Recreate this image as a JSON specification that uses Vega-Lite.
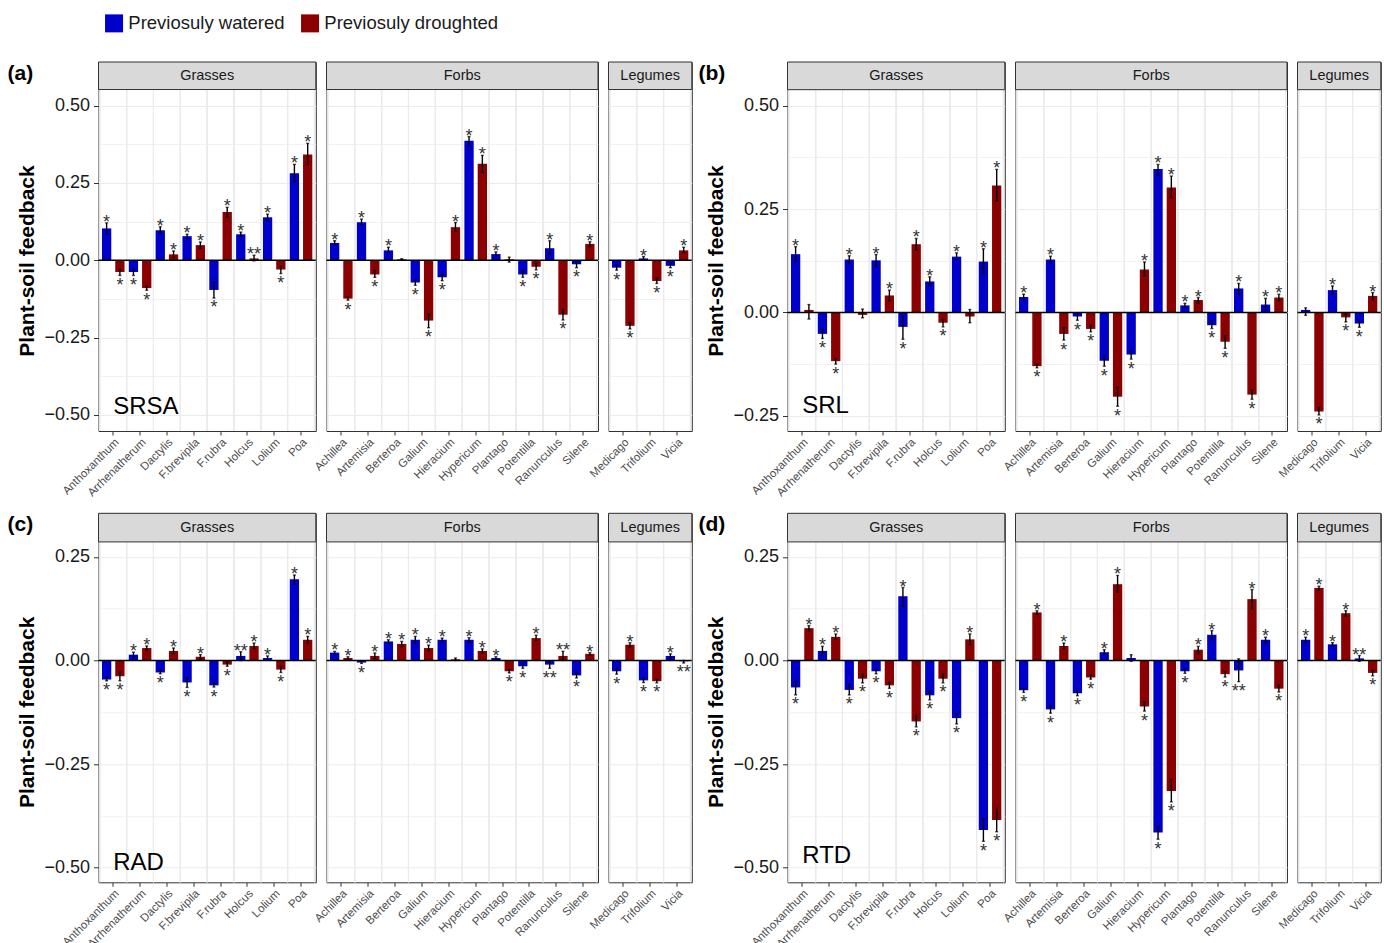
{
"$schema": "https://vega.github.io/schema/vega-lite/v6.json",
"padding": {"left": 6.5, "top": 14, "right": 4, "bottom": 0},
"config": {
  "font": "Liberation Sans",
  "view": {"stroke": "#333333", "strokeWidth": 1},
  "axis": {"domain": false, "gridColor": "#EBEBEB"},
  "axisY": {"grid": true, "tickColor": "#333333", "tickSize": 5, "labelFontSize": 18, "labelColor": "#1A1A1A", "labelPadding": 4, "titleFontSize": 21, "titleFontWeight": "bold", "titleColor": "#000000", "titlePadding": 6},
  "axisX": {"grid": false, "labelAngle": -45, "labelAlign": "right", "labelBaseline": "top", "labelFontSize": 11.5, "labelColor": "#4D4D4D", "tickColor": "#333333", "tickSize": 4, "labelPadding": 1}
},
"resolve": {"scale": {"x": "independent", "y": "independent", "xOffset": "independent", "color": "shared"}},
"columns": 7,
"spacing": {"row": 82.3, "column": 10},
"bounds": "flush",
"align": "each",
"datasets": {"d": [
{"p":"a","g":"G","s":"Anthoxanthum","t":"W","v":0.103,"lo":0.084,"hi":0.121,"sig":"*"},
{"p":"a","g":"G","s":"Anthoxanthum","t":"D","v":-0.038,"lo":-0.049,"hi":-0.030,"sig":"*"},
{"p":"a","g":"G","s":"Arrhenatherum","t":"W","v":-0.038,"lo":-0.049,"hi":-0.030,"sig":"*"},
{"p":"a","g":"G","s":"Arrhenatherum","t":"D","v":-0.090,"lo":-0.097,"hi":-0.084,"sig":"*"},
{"p":"a","g":"G","s":"Dactylis","t":"W","v":0.097,"lo":0.086,"hi":0.108,"sig":"*"},
{"p":"a","g":"G","s":"Dactylis","t":"D","v":0.019,"lo":0.009,"hi":0.030,"sig":"*"},
{"p":"a","g":"G","s":"F.brevipila","t":"W","v":0.078,"lo":0.070,"hi":0.084,"sig":"*"},
{"p":"a","g":"G","s":"F.brevipila","t":"D","v":0.049,"lo":0.038,"hi":0.059,"sig":"*"},
{"p":"a","g":"G","s":"F.rubra","t":"W","v":-0.096,"lo":-0.122,"hi":-0.070,"sig":"*"},
{"p":"a","g":"G","s":"F.rubra","t":"D","v":0.156,"lo":0.140,"hi":0.171,"sig":"*"},
{"p":"a","g":"G","s":"Holcus","t":"W","v":0.084,"lo":0.078,"hi":0.091,"sig":"*"},
{"p":"a","g":"G","s":"Holcus","t":"D","v":0.006,"lo":-0.002,"hi":0.016,"sig":"**"},
{"p":"a","g":"G","s":"Lolium","t":"W","v":0.139,"lo":0.127,"hi":0.149,"sig":"*"},
{"p":"a","g":"G","s":"Lolium","t":"D","v":-0.030,"lo":-0.043,"hi":-0.019,"sig":"*"},
{"p":"a","g":"G","s":"Poa","t":"W","v":0.281,"lo":0.253,"hi":0.310,"sig":"*"},
{"p":"a","g":"G","s":"Poa","t":"D","v":0.342,"lo":0.310,"hi":0.378,"sig":"*"},
{"p":"a","g":"F","s":"Achillea","t":"W","v":0.056,"lo":0.049,"hi":0.063,"sig":"*"},
{"p":"a","g":"F","s":"Achillea","t":"D","v":-0.124,"lo":-0.129,"hi":-0.119,"sig":"*"},
{"p":"a","g":"F","s":"Artemisia","t":"W","v":0.123,"lo":0.114,"hi":0.133,"sig":"*"},
{"p":"a","g":"F","s":"Artemisia","t":"D","v":-0.046,"lo":-0.055,"hi":-0.033,"sig":"*"},
{"p":"a","g":"F","s":"Berteroa","t":"W","v":0.032,"lo":0.025,"hi":0.042,"sig":"*"},
{"p":"a","g":"F","s":"Berteroa","t":"D","v":0.003,"lo":0.001,"hi":0.005,"sig":""},
{"p":"a","g":"F","s":"Galium","t":"W","v":-0.072,"lo":-0.081,"hi":-0.064,"sig":"*"},
{"p":"a","g":"F","s":"Galium","t":"D","v":-0.195,"lo":-0.218,"hi":-0.174,"sig":"*"},
{"p":"a","g":"F","s":"Hieracium","t":"W","v":-0.055,"lo":-0.066,"hi":-0.045,"sig":"*"},
{"p":"a","g":"F","s":"Hieracium","t":"D","v":0.107,"lo":0.093,"hi":0.122,"sig":"*"},
{"p":"a","g":"F","s":"Hypericum","t":"W","v":0.386,"lo":0.370,"hi":0.400,"sig":"*"},
{"p":"a","g":"F","s":"Hypericum","t":"D","v":0.312,"lo":0.284,"hi":0.339,"sig":"*"},
{"p":"a","g":"F","s":"Plantago","t":"W","v":0.020,"lo":0.014,"hi":0.027,"sig":"*"},
{"p":"a","g":"F","s":"Plantago","t":"D","v":0.003,"lo":-0.006,"hi":0.010,"sig":""},
{"p":"a","g":"F","s":"Potentilla","t":"W","v":-0.046,"lo":-0.055,"hi":-0.033,"sig":"*"},
{"p":"a","g":"F","s":"Potentilla","t":"D","v":-0.021,"lo":-0.031,"hi":-0.010,"sig":"*"},
{"p":"a","g":"F","s":"Ranunculus","t":"W","v":0.039,"lo":0.019,"hi":0.063,"sig":"*"},
{"p":"a","g":"F","s":"Ranunculus","t":"D","v":-0.176,"lo":-0.193,"hi":-0.159,"sig":"*"},
{"p":"a","g":"F","s":"Silene","t":"W","v":-0.013,"lo":-0.024,"hi":-0.005,"sig":"*"},
{"p":"a","g":"F","s":"Silene","t":"D","v":0.053,"lo":0.044,"hi":0.060,"sig":"*"},
{"p":"a","g":"L","s":"Medicago","t":"W","v":-0.024,"lo":-0.032,"hi":-0.016,"sig":"*"},
{"p":"a","g":"L","s":"Medicago","t":"D","v":-0.212,"lo":-0.222,"hi":-0.202,"sig":"*"},
{"p":"a","g":"L","s":"Trifolium","t":"W","v":0.006,"lo":0.001,"hi":0.012,"sig":"*"},
{"p":"a","g":"L","s":"Trifolium","t":"D","v":-0.067,"lo":-0.075,"hi":-0.057,"sig":"*"},
{"p":"a","g":"L","s":"Vicia","t":"W","v":-0.018,"lo":-0.024,"hi":-0.010,"sig":"*"},
{"p":"a","g":"L","s":"Vicia","t":"D","v":0.032,"lo":0.025,"hi":0.042,"sig":"*"},
{"p":"b","g":"G","s":"Anthoxanthum","t":"W","v":0.141,"lo":0.123,"hi":0.159,"sig":"*"},
{"p":"b","g":"G","s":"Anthoxanthum","t":"D","v":0.006,"lo":-0.016,"hi":0.019,"sig":""},
{"p":"b","g":"G","s":"Arrhenatherum","t":"W","v":-0.052,"lo":-0.063,"hi":-0.041,"sig":"*"},
{"p":"b","g":"G","s":"Arrhenatherum","t":"D","v":-0.118,"lo":-0.125,"hi":-0.111,"sig":"*"},
{"p":"b","g":"G","s":"Dactylis","t":"W","v":0.128,"lo":0.119,"hi":0.137,"sig":"*"},
{"p":"b","g":"G","s":"Dactylis","t":"D","v":-0.006,"lo":-0.013,"hi":0.008,"sig":""},
{"p":"b","g":"G","s":"F.brevipila","t":"W","v":0.126,"lo":0.110,"hi":0.140,"sig":"*"},
{"p":"b","g":"G","s":"F.brevipila","t":"D","v":0.041,"lo":0.028,"hi":0.054,"sig":"*"},
{"p":"b","g":"G","s":"F.rubra","t":"W","v":-0.035,"lo":-0.065,"hi":-0.008,"sig":"*"},
{"p":"b","g":"G","s":"F.rubra","t":"D","v":0.165,"lo":0.151,"hi":0.179,"sig":"*"},
{"p":"b","g":"G","s":"Holcus","t":"W","v":0.075,"lo":0.064,"hi":0.086,"sig":"*"},
{"p":"b","g":"G","s":"Holcus","t":"D","v":-0.025,"lo":-0.035,"hi":-0.017,"sig":"*"},
{"p":"b","g":"G","s":"Lolium","t":"W","v":0.135,"lo":0.128,"hi":0.144,"sig":"*"},
{"p":"b","g":"G","s":"Lolium","t":"D","v":-0.010,"lo":-0.025,"hi":0.007,"sig":""},
{"p":"b","g":"G","s":"Poa","t":"W","v":0.123,"lo":0.093,"hi":0.154,"sig":"*"},
{"p":"b","g":"G","s":"Poa","t":"D","v":0.307,"lo":0.270,"hi":0.346,"sig":"*"},
{"p":"b","g":"F","s":"Achillea","t":"W","v":0.037,"lo":0.031,"hi":0.044,"sig":"*"},
{"p":"b","g":"F","s":"Achillea","t":"D","v":-0.130,"lo":-0.134,"hi":-0.125,"sig":"*"},
{"p":"b","g":"F","s":"Artemisia","t":"W","v":0.128,"lo":0.120,"hi":0.136,"sig":"*"},
{"p":"b","g":"F","s":"Artemisia","t":"D","v":-0.052,"lo":-0.067,"hi":-0.037,"sig":"*"},
{"p":"b","g":"F","s":"Berteroa","t":"W","v":-0.010,"lo":-0.019,"hi":-0.002,"sig":"*"},
{"p":"b","g":"F","s":"Berteroa","t":"D","v":-0.040,"lo":-0.047,"hi":-0.031,"sig":"*"},
{"p":"b","g":"F","s":"Galium","t":"W","v":-0.117,"lo":-0.130,"hi":-0.105,"sig":"*"},
{"p":"b","g":"F","s":"Galium","t":"D","v":-0.204,"lo":-0.227,"hi":-0.181,"sig":"*"},
{"p":"b","g":"F","s":"Hieracium","t":"W","v":-0.102,"lo":-0.113,"hi":-0.093,"sig":"*"},
{"p":"b","g":"F","s":"Hieracium","t":"D","v":0.104,"lo":0.088,"hi":0.122,"sig":"*"},
{"p":"b","g":"F","s":"Hypericum","t":"W","v":0.347,"lo":0.332,"hi":0.358,"sig":"*"},
{"p":"b","g":"F","s":"Hypericum","t":"D","v":0.302,"lo":0.278,"hi":0.330,"sig":"*"},
{"p":"b","g":"F","s":"Plantago","t":"W","v":0.017,"lo":0.013,"hi":0.022,"sig":"*"},
{"p":"b","g":"F","s":"Plantago","t":"D","v":0.030,"lo":0.022,"hi":0.036,"sig":"*"},
{"p":"b","g":"F","s":"Potentilla","t":"W","v":-0.031,"lo":-0.039,"hi":-0.020,"sig":"*"},
{"p":"b","g":"F","s":"Potentilla","t":"D","v":-0.071,"lo":-0.087,"hi":-0.056,"sig":"*"},
{"p":"b","g":"F","s":"Ranunculus","t":"W","v":0.058,"lo":0.044,"hi":0.070,"sig":"*"},
{"p":"b","g":"F","s":"Ranunculus","t":"D","v":-0.199,"lo":-0.210,"hi":-0.188,"sig":"*"},
{"p":"b","g":"F","s":"Silene","t":"W","v":0.019,"lo":0.006,"hi":0.034,"sig":"*"},
{"p":"b","g":"F","s":"Silene","t":"D","v":0.036,"lo":0.028,"hi":0.044,"sig":"*"},
{"p":"b","g":"L","s":"Medicago","t":"W","v":0.006,"lo":-0.007,"hi":0.011,"sig":""},
{"p":"b","g":"L","s":"Medicago","t":"D","v":-0.240,"lo":-0.248,"hi":-0.230,"sig":"*"},
{"p":"b","g":"L","s":"Trifolium","t":"W","v":0.054,"lo":0.046,"hi":0.064,"sig":"*"},
{"p":"b","g":"L","s":"Trifolium","t":"D","v":-0.012,"lo":-0.023,"hi":-0.004,"sig":"*"},
{"p":"b","g":"L","s":"Vicia","t":"W","v":-0.027,"lo":-0.036,"hi":-0.019,"sig":"*"},
{"p":"b","g":"L","s":"Vicia","t":"D","v":0.040,"lo":0.030,"hi":0.048,"sig":"*"},
{"p":"c","g":"G","s":"Anthoxanthum","t":"W","v":-0.046,"lo":-0.049,"hi":-0.041,"sig":"*"},
{"p":"c","g":"G","s":"Anthoxanthum","t":"D","v":-0.038,"lo":-0.049,"hi":-0.028,"sig":"*"},
{"p":"c","g":"G","s":"Arrhenatherum","t":"W","v":0.014,"lo":0.007,"hi":0.020,"sig":"*"},
{"p":"c","g":"G","s":"Arrhenatherum","t":"D","v":0.030,"lo":0.025,"hi":0.035,"sig":"*"},
{"p":"c","g":"G","s":"Dactylis","t":"W","v":-0.029,"lo":-0.032,"hi":-0.023,"sig":"*"},
{"p":"c","g":"G","s":"Dactylis","t":"D","v":0.023,"lo":0.016,"hi":0.030,"sig":"*"},
{"p":"c","g":"G","s":"F.brevipila","t":"W","v":-0.053,"lo":-0.065,"hi":-0.042,"sig":"*"},
{"p":"c","g":"G","s":"F.brevipila","t":"D","v":0.009,"lo":0.003,"hi":0.014,"sig":"*"},
{"p":"c","g":"G","s":"F.rubra","t":"W","v":-0.060,"lo":-0.064,"hi":-0.054,"sig":"*"},
{"p":"c","g":"G","s":"F.rubra","t":"D","v":-0.010,"lo":-0.014,"hi":-0.004,"sig":"*"},
{"p":"c","g":"G","s":"Holcus","t":"W","v":0.011,"lo":0.000,"hi":0.021,"sig":"**"},
{"p":"c","g":"G","s":"Holcus","t":"D","v":0.035,"lo":0.028,"hi":0.042,"sig":"*"},
{"p":"c","g":"G","s":"Lolium","t":"W","v":0.006,"lo":0.002,"hi":0.011,"sig":"*"},
{"p":"c","g":"G","s":"Lolium","t":"D","v":-0.022,"lo":-0.029,"hi":-0.014,"sig":"*"},
{"p":"c","g":"G","s":"Poa","t":"W","v":0.196,"lo":0.184,"hi":0.206,"sig":"*"},
{"p":"c","g":"G","s":"Poa","t":"D","v":0.050,"lo":0.042,"hi":0.058,"sig":"*"},
{"p":"c","g":"F","s":"Achillea","t":"W","v":0.019,"lo":0.016,"hi":0.022,"sig":"*"},
{"p":"c","g":"F","s":"Achillea","t":"D","v":0.006,"lo":0.003,"hi":0.009,"sig":"*"},
{"p":"c","g":"F","s":"Artemisia","t":"W","v":-0.005,"lo":-0.007,"hi":-0.002,"sig":"*"},
{"p":"c","g":"F","s":"Artemisia","t":"D","v":0.011,"lo":0.005,"hi":0.018,"sig":"*"},
{"p":"c","g":"F","s":"Berteroa","t":"W","v":0.046,"lo":0.042,"hi":0.050,"sig":"*"},
{"p":"c","g":"F","s":"Berteroa","t":"D","v":0.040,"lo":0.033,"hi":0.046,"sig":"*"},
{"p":"c","g":"F","s":"Galium","t":"W","v":0.050,"lo":0.043,"hi":0.058,"sig":"*"},
{"p":"c","g":"F","s":"Galium","t":"D","v":0.030,"lo":0.024,"hi":0.037,"sig":"*"},
{"p":"c","g":"F","s":"Hieracium","t":"W","v":0.050,"lo":0.046,"hi":0.054,"sig":"*"},
{"p":"c","g":"F","s":"Hieracium","t":"D","v":0.003,"lo":0.000,"hi":0.006,"sig":""},
{"p":"c","g":"F","s":"Hypericum","t":"W","v":0.050,"lo":0.044,"hi":0.055,"sig":"*"},
{"p":"c","g":"F","s":"Hypericum","t":"D","v":0.023,"lo":0.018,"hi":0.028,"sig":"*"},
{"p":"c","g":"F","s":"Plantago","t":"W","v":0.006,"lo":0.002,"hi":0.009,"sig":"*"},
{"p":"c","g":"F","s":"Plantago","t":"D","v":-0.026,"lo":-0.030,"hi":-0.022,"sig":"*"},
{"p":"c","g":"F","s":"Potentilla","t":"W","v":-0.014,"lo":-0.019,"hi":-0.009,"sig":"*"},
{"p":"c","g":"F","s":"Potentilla","t":"D","v":0.054,"lo":0.048,"hi":0.061,"sig":"*"},
{"p":"c","g":"F","s":"Ranunculus","t":"W","v":-0.010,"lo":-0.019,"hi":-0.002,"sig":"**"},
{"p":"c","g":"F","s":"Ranunculus","t":"D","v":0.011,"lo":0.000,"hi":0.022,"sig":"**"},
{"p":"c","g":"F","s":"Silene","t":"W","v":-0.036,"lo":-0.042,"hi":-0.029,"sig":"*"},
{"p":"c","g":"F","s":"Silene","t":"D","v":0.016,"lo":0.013,"hi":0.019,"sig":"*"},
{"p":"c","g":"L","s":"Medicago","t":"W","v":-0.026,"lo":-0.033,"hi":-0.019,"sig":"*"},
{"p":"c","g":"L","s":"Medicago","t":"D","v":0.038,"lo":0.033,"hi":0.043,"sig":"*"},
{"p":"c","g":"L","s":"Trifolium","t":"W","v":-0.048,"lo":-0.053,"hi":-0.042,"sig":"*"},
{"p":"c","g":"L","s":"Trifolium","t":"D","v":-0.050,"lo":-0.054,"hi":-0.045,"sig":"*"},
{"p":"c","g":"L","s":"Vicia","t":"W","v":0.011,"lo":0.006,"hi":0.016,"sig":"*"},
{"p":"c","g":"L","s":"Vicia","t":"D","v":-0.002,"lo":-0.006,"hi":0.000,"sig":"**"},
{"p":"d","g":"G","s":"Anthoxanthum","t":"W","v":-0.065,"lo":-0.083,"hi":-0.050,"sig":"*"},
{"p":"d","g":"G","s":"Anthoxanthum","t":"D","v":0.078,"lo":0.072,"hi":0.084,"sig":"*"},
{"p":"d","g":"G","s":"Arrhenatherum","t":"W","v":0.023,"lo":0.012,"hi":0.034,"sig":"*"},
{"p":"d","g":"G","s":"Arrhenatherum","t":"D","v":0.057,"lo":0.051,"hi":0.064,"sig":"*"},
{"p":"d","g":"G","s":"Dactylis","t":"W","v":-0.071,"lo":-0.083,"hi":-0.057,"sig":"*"},
{"p":"d","g":"G","s":"Dactylis","t":"D","v":-0.044,"lo":-0.054,"hi":-0.033,"sig":"*"},
{"p":"d","g":"G","s":"F.brevipila","t":"W","v":-0.026,"lo":-0.032,"hi":-0.021,"sig":"*"},
{"p":"d","g":"G","s":"F.brevipila","t":"D","v":-0.060,"lo":-0.067,"hi":-0.053,"sig":"*"},
{"p":"d","g":"G","s":"F.rubra","t":"W","v":0.155,"lo":0.130,"hi":0.176,"sig":"*"},
{"p":"d","g":"G","s":"F.rubra","t":"D","v":-0.147,"lo":-0.160,"hi":-0.133,"sig":"*"},
{"p":"d","g":"G","s":"Holcus","t":"W","v":-0.084,"lo":-0.095,"hi":-0.073,"sig":"*"},
{"p":"d","g":"G","s":"Holcus","t":"D","v":-0.044,"lo":-0.054,"hi":-0.032,"sig":"*"},
{"p":"d","g":"G","s":"Lolium","t":"W","v":-0.139,"lo":-0.153,"hi":-0.128,"sig":"*"},
{"p":"d","g":"G","s":"Lolium","t":"D","v":0.051,"lo":0.038,"hi":0.064,"sig":"*"},
{"p":"d","g":"G","s":"Poa","t":"W","v":-0.409,"lo":-0.436,"hi":-0.381,"sig":"*"},
{"p":"d","g":"G","s":"Poa","t":"D","v":-0.385,"lo":-0.413,"hi":-0.357,"sig":"*"},
{"p":"d","g":"F","s":"Achillea","t":"W","v":-0.072,"lo":-0.077,"hi":-0.068,"sig":"*"},
{"p":"d","g":"F","s":"Achillea","t":"D","v":0.116,"lo":0.111,"hi":0.120,"sig":"*"},
{"p":"d","g":"F","s":"Artemisia","t":"W","v":-0.118,"lo":-0.127,"hi":-0.109,"sig":"*"},
{"p":"d","g":"F","s":"Artemisia","t":"D","v":0.035,"lo":0.028,"hi":0.042,"sig":"*"},
{"p":"d","g":"F","s":"Berteroa","t":"W","v":-0.079,"lo":-0.085,"hi":-0.072,"sig":"*"},
{"p":"d","g":"F","s":"Berteroa","t":"D","v":-0.041,"lo":-0.045,"hi":-0.034,"sig":"*"},
{"p":"d","g":"F","s":"Galium","t":"W","v":0.020,"lo":0.015,"hi":0.026,"sig":"*"},
{"p":"d","g":"F","s":"Galium","t":"D","v":0.184,"lo":0.165,"hi":0.205,"sig":"*"},
{"p":"d","g":"F","s":"Hieracium","t":"W","v":0.006,"lo":-0.002,"hi":0.014,"sig":""},
{"p":"d","g":"F","s":"Hieracium","t":"D","v":-0.111,"lo":-0.122,"hi":-0.100,"sig":"*"},
{"p":"d","g":"F","s":"Hypericum","t":"W","v":-0.415,"lo":-0.431,"hi":-0.401,"sig":"*"},
{"p":"d","g":"F","s":"Hypericum","t":"D","v":-0.315,"lo":-0.341,"hi":-0.287,"sig":"*"},
{"p":"d","g":"F","s":"Plantago","t":"W","v":-0.026,"lo":-0.031,"hi":-0.021,"sig":"*"},
{"p":"d","g":"F","s":"Plantago","t":"D","v":0.026,"lo":0.016,"hi":0.034,"sig":"*"},
{"p":"d","g":"F","s":"Potentilla","t":"W","v":0.062,"lo":0.050,"hi":0.072,"sig":"*"},
{"p":"d","g":"F","s":"Potentilla","t":"D","v":-0.033,"lo":-0.040,"hi":-0.026,"sig":"*"},
{"p":"d","g":"F","s":"Ranunculus","t":"W","v":-0.024,"lo":-0.051,"hi":0.004,"sig":"**"},
{"p":"d","g":"F","s":"Ranunculus","t":"D","v":0.148,"lo":0.124,"hi":0.171,"sig":"*"},
{"p":"d","g":"F","s":"Silene","t":"W","v":0.050,"lo":0.043,"hi":0.056,"sig":"*"},
{"p":"d","g":"F","s":"Silene","t":"D","v":-0.068,"lo":-0.076,"hi":-0.060,"sig":"*"},
{"p":"d","g":"L","s":"Medicago","t":"W","v":0.050,"lo":0.043,"hi":0.056,"sig":"*"},
{"p":"d","g":"L","s":"Medicago","t":"D","v":0.175,"lo":0.170,"hi":0.179,"sig":"*"},
{"p":"d","g":"L","s":"Trifolium","t":"W","v":0.039,"lo":0.035,"hi":0.043,"sig":"*"},
{"p":"d","g":"L","s":"Trifolium","t":"D","v":0.114,"lo":0.107,"hi":0.120,"sig":"*"},
{"p":"d","g":"L","s":"Vicia","t":"W","v":0.005,"lo":-0.002,"hi":0.012,"sig":"**"},
{"p":"d","g":"L","s":"Vicia","t":"D","v":-0.030,"lo":-0.037,"hi":-0.024,"sig":"*"}
]},
"concat": [
{"width":217.3,"height":369,"data":{"name":"d"},"transform":[{"filter":"datum.p=='a' && datum.g=='G'"}],
 "title":{"text":"(a)","anchor":"start","frame":"group","dx":-91,"dy":33,"offset":0,"baseline":"middle","fontSize":21,"fontWeight":"bold","color":"#000000"},
 "layer":[
  {"mark":{"type":"rule","color":"#EBEBEB","strokeWidth":1.1},"encoding":{"x":{"field":"s","type":"nominal","bandPosition":0},"y":{"datum":-0.552},"y2":{"datum":0.552}}},
  {"mark":{"type":"rule","color":"#EBEBEB","strokeWidth":1.1},"encoding":{"x":{"field":"s","type":"nominal","bandPosition":1},"y":{"datum":-0.552},"y2":{"datum":0.552}}},
  {"mark":{"type":"bar"},"encoding":{"x":{"field":"s","type":"nominal","scale":{"paddingInner":0,"paddingOuter":0.05},"axis":{"title":null}},"xOffset":{"field":"t","type":"nominal","sort":["W","D"],"scale":{"domain":["W","D"],"paddingInner":0.3,"paddingOuter":0.16}},"y":{"field":"v","type":"quantitative","scale":{"domain":[-0.552,0.641],"nice":false},"axis":{"title":"Plant-soil feedback","titleY":198.5,"values":[-0.5,-0.375,-0.25,-0.125,0,0.125,0.25,0.375,0.5],"labelExpr":"abs(datum.value*4-round(datum.value*4))<0.001 ? format(datum.value,'.2f') : ''","tickOpacity":{"condition":{"test":"abs(datum.value*4-round(datum.value*4))<0.001","value":1},"value":0},"gridWidth":{"condition":{"test":"abs(datum.value*4-round(datum.value*4))<0.001","value":1.1},"value":0.7}}},"color":{"field":"t","type":"nominal","sort":["W","D"],"scale":{"domain":["W","D"],"range":["#0000CD","#8B0000"]},"legend":{"title":null,"orient":"none","legendX":6.3,"legendY":-48,"direction":"horizontal","symbolType":"square","symbolSize":324,"symbolStrokeWidth":0,"labelFontSize":18.5,"labelColor":"#1A1A1A","labelOffset":5,"columnPadding":16,"labelLimit":400,"padding":0,"labelExpr":"datum.label == 'W' ? 'Previosuly watered' : 'Previosuly droughted'"}}}},
  {"data":{"values":[{}]},"mark":{"type":"rule","color":"#000000","strokeWidth":1.5},"encoding":{"y":{"datum":0}}},
  {"mark":{"type":"rule","color":"#000000","strokeWidth":1.4},"encoding":{"x":{"field":"s","type":"nominal"},"xOffset":{"field":"t","type":"nominal","sort":["W","D"]},"y":{"field":"lo","type":"quantitative"},"y2":{"field":"hi"}}},
  {"mark":{"type":"tick","color":"#000000","thickness":1.4,"size":3},"encoding":{"x":{"field":"s","type":"nominal"},"xOffset":{"field":"t","type":"nominal","sort":["W","D"]},"y":{"field":"lo","type":"quantitative"}}},
  {"mark":{"type":"tick","color":"#000000","thickness":1.4,"size":3},"encoding":{"x":{"field":"s","type":"nominal"},"xOffset":{"field":"t","type":"nominal","sort":["W","D"]},"y":{"field":"hi","type":"quantitative"}}},
  {"transform":[{"filter":"datum.sig!='' && datum.v>=0"}],"mark":{"type":"text","fontSize":18,"dy":5,"baseline":"alphabetic","color":"#333333"},"encoding":{"x":{"field":"s","type":"nominal"},"xOffset":{"field":"t","type":"nominal","sort":["W","D"]},"y":{"field":"hi","type":"quantitative"},"text":{"field":"sig"}}},
  {"transform":[{"filter":"datum.sig!='' && datum.v<0"}],"mark":{"type":"text","fontSize":18,"dy":15.5,"baseline":"alphabetic","color":"#333333"},"encoding":{"x":{"field":"s","type":"nominal"},"xOffset":{"field":"t","type":"nominal","sort":["W","D"]},"y":{"field":"lo","type":"quantitative"},"text":{"field":"sig"}}},
  {"data":{"values":[{}]},"mark":{"type":"rect","fill":"#D9D9D9","stroke":"#333333","strokeWidth":1},"encoding":{"y":{"datum":0.641},"y2":{"datum":0.552}}},
  {"data":{"values":[{"lab":"Grasses"}]},"mark":{"type":"text","fontSize":14.5,"color":"#1A1A1A","baseline":"middle"},"encoding":{"y":{"datum":0.5965},"text":{"field":"lab"}}},
  {"data":{"values":[{"m":"SRSA"}]},"mark":{"type":"text","fontSize":24,"align":"left","baseline":"alphabetic","color":"#000000"},"encoding":{"x":{"datum":"Anthoxanthum"},"y":{"datum":-0.498},"text":{"field":"m"}}}
 ]},
{"width":271.5,"height":369,"data":{"name":"d"},"transform":[{"filter":"datum.p=='a' && datum.g=='F'"}],
 "layer":[
  {"mark":{"type":"rule","color":"#EBEBEB","strokeWidth":1.1},"encoding":{"x":{"field":"s","type":"nominal","bandPosition":0},"y":{"datum":-0.552},"y2":{"datum":0.552}}},
  {"mark":{"type":"rule","color":"#EBEBEB","strokeWidth":1.1},"encoding":{"x":{"field":"s","type":"nominal","bandPosition":1},"y":{"datum":-0.552},"y2":{"datum":0.552}}},
  {"mark":{"type":"bar"},"encoding":{"x":{"field":"s","type":"nominal","scale":{"paddingInner":0,"paddingOuter":0.05},"axis":{"title":null}},"xOffset":{"field":"t","type":"nominal","sort":["W","D"],"scale":{"domain":["W","D"],"paddingInner":0.3,"paddingOuter":0.16}},"y":{"field":"v","type":"quantitative","scale":{"domain":[-0.552,0.641],"nice":false},"axis":{"title":null,"values":[-0.5,-0.375,-0.25,-0.125,0,0.125,0.25,0.375,0.5],"labels":false,"ticks":false,"gridWidth":{"condition":{"test":"abs(datum.value*4-round(datum.value*4))<0.001","value":1.1},"value":0.7}}},"color":{"field":"t","type":"nominal","sort":["W","D"],"scale":{"domain":["W","D"],"range":["#0000CD","#8B0000"]}}}},
  {"data":{"values":[{}]},"mark":{"type":"rule","color":"#000000","strokeWidth":1.5},"encoding":{"y":{"datum":0}}},
  {"mark":{"type":"rule","color":"#000000","strokeWidth":1.4},"encoding":{"x":{"field":"s","type":"nominal"},"xOffset":{"field":"t","type":"nominal","sort":["W","D"]},"y":{"field":"lo","type":"quantitative"},"y2":{"field":"hi"}}},
  {"mark":{"type":"tick","color":"#000000","thickness":1.4,"size":3},"encoding":{"x":{"field":"s","type":"nominal"},"xOffset":{"field":"t","type":"nominal","sort":["W","D"]},"y":{"field":"lo","type":"quantitative"}}},
  {"mark":{"type":"tick","color":"#000000","thickness":1.4,"size":3},"encoding":{"x":{"field":"s","type":"nominal"},"xOffset":{"field":"t","type":"nominal","sort":["W","D"]},"y":{"field":"hi","type":"quantitative"}}},
  {"transform":[{"filter":"datum.sig!='' && datum.v>=0"}],"mark":{"type":"text","fontSize":18,"dy":5,"baseline":"alphabetic","color":"#333333"},"encoding":{"x":{"field":"s","type":"nominal"},"xOffset":{"field":"t","type":"nominal","sort":["W","D"]},"y":{"field":"hi","type":"quantitative"},"text":{"field":"sig"}}},
  {"transform":[{"filter":"datum.sig!='' && datum.v<0"}],"mark":{"type":"text","fontSize":18,"dy":15.5,"baseline":"alphabetic","color":"#333333"},"encoding":{"x":{"field":"s","type":"nominal"},"xOffset":{"field":"t","type":"nominal","sort":["W","D"]},"y":{"field":"lo","type":"quantitative"},"text":{"field":"sig"}}},
  {"data":{"values":[{}]},"mark":{"type":"rect","fill":"#D9D9D9","stroke":"#333333","strokeWidth":1},"encoding":{"y":{"datum":0.641},"y2":{"datum":0.552}}},
  {"data":{"values":[{"lab":"Forbs"}]},"mark":{"type":"text","fontSize":14.5,"color":"#1A1A1A","baseline":"middle"},"encoding":{"y":{"datum":0.5965},"text":{"field":"lab"}}}
 ]},
{"width":83.3,"height":369,"data":{"name":"d"},"transform":[{"filter":"datum.p=='a' && datum.g=='L'"}],
 "layer":[
  {"mark":{"type":"rule","color":"#EBEBEB","strokeWidth":1.1},"encoding":{"x":{"field":"s","type":"nominal","bandPosition":0},"y":{"datum":-0.552},"y2":{"datum":0.552}}},
  {"mark":{"type":"rule","color":"#EBEBEB","strokeWidth":1.1},"encoding":{"x":{"field":"s","type":"nominal","bandPosition":1},"y":{"datum":-0.552},"y2":{"datum":0.552}}},
  {"mark":{"type":"bar"},"encoding":{"x":{"field":"s","type":"nominal","scale":{"paddingInner":0,"paddingOuter":0.05},"axis":{"title":null}},"xOffset":{"field":"t","type":"nominal","sort":["W","D"],"scale":{"domain":["W","D"],"paddingInner":0.3,"paddingOuter":0.16}},"y":{"field":"v","type":"quantitative","scale":{"domain":[-0.552,0.641],"nice":false},"axis":{"title":null,"values":[-0.5,-0.375,-0.25,-0.125,0,0.125,0.25,0.375,0.5],"labels":false,"ticks":false,"gridWidth":{"condition":{"test":"abs(datum.value*4-round(datum.value*4))<0.001","value":1.1},"value":0.7}}},"color":{"field":"t","type":"nominal","sort":["W","D"],"scale":{"domain":["W","D"],"range":["#0000CD","#8B0000"]}}}},
  {"data":{"values":[{}]},"mark":{"type":"rule","color":"#000000","strokeWidth":1.5},"encoding":{"y":{"datum":0}}},
  {"mark":{"type":"rule","color":"#000000","strokeWidth":1.4},"encoding":{"x":{"field":"s","type":"nominal"},"xOffset":{"field":"t","type":"nominal","sort":["W","D"]},"y":{"field":"lo","type":"quantitative"},"y2":{"field":"hi"}}},
  {"mark":{"type":"tick","color":"#000000","thickness":1.4,"size":3},"encoding":{"x":{"field":"s","type":"nominal"},"xOffset":{"field":"t","type":"nominal","sort":["W","D"]},"y":{"field":"lo","type":"quantitative"}}},
  {"mark":{"type":"tick","color":"#000000","thickness":1.4,"size":3},"encoding":{"x":{"field":"s","type":"nominal"},"xOffset":{"field":"t","type":"nominal","sort":["W","D"]},"y":{"field":"hi","type":"quantitative"}}},
  {"transform":[{"filter":"datum.sig!='' && datum.v>=0"}],"mark":{"type":"text","fontSize":18,"dy":5,"baseline":"alphabetic","color":"#333333"},"encoding":{"x":{"field":"s","type":"nominal"},"xOffset":{"field":"t","type":"nominal","sort":["W","D"]},"y":{"field":"hi","type":"quantitative"},"text":{"field":"sig"}}},
  {"transform":[{"filter":"datum.sig!='' && datum.v<0"}],"mark":{"type":"text","fontSize":18,"dy":15.5,"baseline":"alphabetic","color":"#333333"},"encoding":{"x":{"field":"s","type":"nominal"},"xOffset":{"field":"t","type":"nominal","sort":["W","D"]},"y":{"field":"lo","type":"quantitative"},"text":{"field":"sig"}}},
  {"data":{"values":[{}]},"mark":{"type":"rect","fill":"#D9D9D9","stroke":"#333333","strokeWidth":1},"encoding":{"y":{"datum":0.641},"y2":{"datum":0.552}}},
  {"data":{"values":[{"lab":"Legumes"}]},"mark":{"type":"text","fontSize":14.5,"color":"#1A1A1A","baseline":"middle"},"encoding":{"y":{"datum":0.5965},"text":{"field":"lab"}}}
 ]},
{"width":74.7,"height":369,"view":{"stroke":null},"data":{"values":[]},"mark":"point"},
{"width":217.3,"height":369,"data":{"name":"d"},"transform":[{"filter":"datum.p=='b' && datum.g=='G'"}],
 "title":{"text":"(b)","anchor":"start","frame":"group","dx":-89,"dy":33,"offset":0,"baseline":"middle","fontSize":21,"fontWeight":"bold","color":"#000000"},
 "layer":[
  {"mark":{"type":"rule","color":"#EBEBEB","strokeWidth":1.1},"encoding":{"x":{"field":"s","type":"nominal","bandPosition":0},"y":{"datum":-0.287},"y2":{"datum":0.539}}},
  {"mark":{"type":"rule","color":"#EBEBEB","strokeWidth":1.1},"encoding":{"x":{"field":"s","type":"nominal","bandPosition":1},"y":{"datum":-0.287},"y2":{"datum":0.539}}},
  {"mark":{"type":"bar"},"encoding":{"x":{"field":"s","type":"nominal","scale":{"paddingInner":0,"paddingOuter":0.05},"axis":{"title":null}},"xOffset":{"field":"t","type":"nominal","sort":["W","D"],"scale":{"domain":["W","D"],"paddingInner":0.3,"paddingOuter":0.16}},"y":{"field":"v","type":"quantitative","scale":{"domain":[-0.287,0.606],"nice":false},"axis":{"title":"Plant-soil feedback","titleY":198.5,"values":[-0.25,-0.125,0,0.125,0.25,0.375,0.5],"labelExpr":"abs(datum.value*4-round(datum.value*4))<0.001 ? format(datum.value,'.2f') : ''","tickOpacity":{"condition":{"test":"abs(datum.value*4-round(datum.value*4))<0.001","value":1},"value":0},"gridWidth":{"condition":{"test":"abs(datum.value*4-round(datum.value*4))<0.001","value":1.1},"value":0.7}}},"color":{"field":"t","type":"nominal","sort":["W","D"],"scale":{"domain":["W","D"],"range":["#0000CD","#8B0000"]}}}},
  {"data":{"values":[{}]},"mark":{"type":"rule","color":"#000000","strokeWidth":1.5},"encoding":{"y":{"datum":0}}},
  {"mark":{"type":"rule","color":"#000000","strokeWidth":1.4},"encoding":{"x":{"field":"s","type":"nominal"},"xOffset":{"field":"t","type":"nominal","sort":["W","D"]},"y":{"field":"lo","type":"quantitative"},"y2":{"field":"hi"}}},
  {"mark":{"type":"tick","color":"#000000","thickness":1.4,"size":3},"encoding":{"x":{"field":"s","type":"nominal"},"xOffset":{"field":"t","type":"nominal","sort":["W","D"]},"y":{"field":"lo","type":"quantitative"}}},
  {"mark":{"type":"tick","color":"#000000","thickness":1.4,"size":3},"encoding":{"x":{"field":"s","type":"nominal"},"xOffset":{"field":"t","type":"nominal","sort":["W","D"]},"y":{"field":"hi","type":"quantitative"}}},
  {"transform":[{"filter":"datum.sig!='' && datum.v>=0"}],"mark":{"type":"text","fontSize":18,"dy":5,"baseline":"alphabetic","color":"#333333"},"encoding":{"x":{"field":"s","type":"nominal"},"xOffset":{"field":"t","type":"nominal","sort":["W","D"]},"y":{"field":"hi","type":"quantitative"},"text":{"field":"sig"}}},
  {"transform":[{"filter":"datum.sig!='' && datum.v<0"}],"mark":{"type":"text","fontSize":18,"dy":15.5,"baseline":"alphabetic","color":"#333333"},"encoding":{"x":{"field":"s","type":"nominal"},"xOffset":{"field":"t","type":"nominal","sort":["W","D"]},"y":{"field":"lo","type":"quantitative"},"text":{"field":"sig"}}},
  {"data":{"values":[{}]},"mark":{"type":"rect","fill":"#D9D9D9","stroke":"#333333","strokeWidth":1},"encoding":{"y":{"datum":0.606},"y2":{"datum":0.539}}},
  {"data":{"values":[{"lab":"Grasses"}]},"mark":{"type":"text","fontSize":14.5,"color":"#1A1A1A","baseline":"middle"},"encoding":{"y":{"datum":0.5725},"text":{"field":"lab"}}},
  {"data":{"values":[{"m":"SRL"}]},"mark":{"type":"text","fontSize":24,"align":"left","baseline":"alphabetic","color":"#000000"},"encoding":{"x":{"datum":"Anthoxanthum"},"y":{"datum":-0.244},"text":{"field":"m"}}}
 ]},
{"width":271.5,"height":369,"data":{"name":"d"},"transform":[{"filter":"datum.p=='b' && datum.g=='F'"}],
 "layer":[
  {"mark":{"type":"rule","color":"#EBEBEB","strokeWidth":1.1},"encoding":{"x":{"field":"s","type":"nominal","bandPosition":0},"y":{"datum":-0.287},"y2":{"datum":0.539}}},
  {"mark":{"type":"rule","color":"#EBEBEB","strokeWidth":1.1},"encoding":{"x":{"field":"s","type":"nominal","bandPosition":1},"y":{"datum":-0.287},"y2":{"datum":0.539}}},
  {"mark":{"type":"bar"},"encoding":{"x":{"field":"s","type":"nominal","scale":{"paddingInner":0,"paddingOuter":0.05},"axis":{"title":null}},"xOffset":{"field":"t","type":"nominal","sort":["W","D"],"scale":{"domain":["W","D"],"paddingInner":0.3,"paddingOuter":0.16}},"y":{"field":"v","type":"quantitative","scale":{"domain":[-0.287,0.606],"nice":false},"axis":{"title":null,"values":[-0.25,-0.125,0,0.125,0.25,0.375,0.5],"labels":false,"ticks":false,"gridWidth":{"condition":{"test":"abs(datum.value*4-round(datum.value*4))<0.001","value":1.1},"value":0.7}}},"color":{"field":"t","type":"nominal","sort":["W","D"],"scale":{"domain":["W","D"],"range":["#0000CD","#8B0000"]}}}},
  {"data":{"values":[{}]},"mark":{"type":"rule","color":"#000000","strokeWidth":1.5},"encoding":{"y":{"datum":0}}},
  {"mark":{"type":"rule","color":"#000000","strokeWidth":1.4},"encoding":{"x":{"field":"s","type":"nominal"},"xOffset":{"field":"t","type":"nominal","sort":["W","D"]},"y":{"field":"lo","type":"quantitative"},"y2":{"field":"hi"}}},
  {"mark":{"type":"tick","color":"#000000","thickness":1.4,"size":3},"encoding":{"x":{"field":"s","type":"nominal"},"xOffset":{"field":"t","type":"nominal","sort":["W","D"]},"y":{"field":"lo","type":"quantitative"}}},
  {"mark":{"type":"tick","color":"#000000","thickness":1.4,"size":3},"encoding":{"x":{"field":"s","type":"nominal"},"xOffset":{"field":"t","type":"nominal","sort":["W","D"]},"y":{"field":"hi","type":"quantitative"}}},
  {"transform":[{"filter":"datum.sig!='' && datum.v>=0"}],"mark":{"type":"text","fontSize":18,"dy":5,"baseline":"alphabetic","color":"#333333"},"encoding":{"x":{"field":"s","type":"nominal"},"xOffset":{"field":"t","type":"nominal","sort":["W","D"]},"y":{"field":"hi","type":"quantitative"},"text":{"field":"sig"}}},
  {"transform":[{"filter":"datum.sig!='' && datum.v<0"}],"mark":{"type":"text","fontSize":18,"dy":15.5,"baseline":"alphabetic","color":"#333333"},"encoding":{"x":{"field":"s","type":"nominal"},"xOffset":{"field":"t","type":"nominal","sort":["W","D"]},"y":{"field":"lo","type":"quantitative"},"text":{"field":"sig"}}},
  {"data":{"values":[{}]},"mark":{"type":"rect","fill":"#D9D9D9","stroke":"#333333","strokeWidth":1},"encoding":{"y":{"datum":0.606},"y2":{"datum":0.539}}},
  {"data":{"values":[{"lab":"Forbs"}]},"mark":{"type":"text","fontSize":14.5,"color":"#1A1A1A","baseline":"middle"},"encoding":{"y":{"datum":0.5725},"text":{"field":"lab"}}}
 ]},
{"width":83.3,"height":369,"data":{"name":"d"},"transform":[{"filter":"datum.p=='b' && datum.g=='L'"}],
 "layer":[
  {"mark":{"type":"rule","color":"#EBEBEB","strokeWidth":1.1},"encoding":{"x":{"field":"s","type":"nominal","bandPosition":0},"y":{"datum":-0.287},"y2":{"datum":0.539}}},
  {"mark":{"type":"rule","color":"#EBEBEB","strokeWidth":1.1},"encoding":{"x":{"field":"s","type":"nominal","bandPosition":1},"y":{"datum":-0.287},"y2":{"datum":0.539}}},
  {"mark":{"type":"bar"},"encoding":{"x":{"field":"s","type":"nominal","scale":{"paddingInner":0,"paddingOuter":0.05},"axis":{"title":null}},"xOffset":{"field":"t","type":"nominal","sort":["W","D"],"scale":{"domain":["W","D"],"paddingInner":0.3,"paddingOuter":0.16}},"y":{"field":"v","type":"quantitative","scale":{"domain":[-0.287,0.606],"nice":false},"axis":{"title":null,"values":[-0.25,-0.125,0,0.125,0.25,0.375,0.5],"labels":false,"ticks":false,"gridWidth":{"condition":{"test":"abs(datum.value*4-round(datum.value*4))<0.001","value":1.1},"value":0.7}}},"color":{"field":"t","type":"nominal","sort":["W","D"],"scale":{"domain":["W","D"],"range":["#0000CD","#8B0000"]}}}},
  {"data":{"values":[{}]},"mark":{"type":"rule","color":"#000000","strokeWidth":1.5},"encoding":{"y":{"datum":0}}},
  {"mark":{"type":"rule","color":"#000000","strokeWidth":1.4},"encoding":{"x":{"field":"s","type":"nominal"},"xOffset":{"field":"t","type":"nominal","sort":["W","D"]},"y":{"field":"lo","type":"quantitative"},"y2":{"field":"hi"}}},
  {"mark":{"type":"tick","color":"#000000","thickness":1.4,"size":3},"encoding":{"x":{"field":"s","type":"nominal"},"xOffset":{"field":"t","type":"nominal","sort":["W","D"]},"y":{"field":"lo","type":"quantitative"}}},
  {"mark":{"type":"tick","color":"#000000","thickness":1.4,"size":3},"encoding":{"x":{"field":"s","type":"nominal"},"xOffset":{"field":"t","type":"nominal","sort":["W","D"]},"y":{"field":"hi","type":"quantitative"}}},
  {"transform":[{"filter":"datum.sig!='' && datum.v>=0"}],"mark":{"type":"text","fontSize":18,"dy":5,"baseline":"alphabetic","color":"#333333"},"encoding":{"x":{"field":"s","type":"nominal"},"xOffset":{"field":"t","type":"nominal","sort":["W","D"]},"y":{"field":"hi","type":"quantitative"},"text":{"field":"sig"}}},
  {"transform":[{"filter":"datum.sig!='' && datum.v<0"}],"mark":{"type":"text","fontSize":18,"dy":15.5,"baseline":"alphabetic","color":"#333333"},"encoding":{"x":{"field":"s","type":"nominal"},"xOffset":{"field":"t","type":"nominal","sort":["W","D"]},"y":{"field":"lo","type":"quantitative"},"text":{"field":"sig"}}},
  {"data":{"values":[{}]},"mark":{"type":"rect","fill":"#D9D9D9","stroke":"#333333","strokeWidth":1},"encoding":{"y":{"datum":0.606},"y2":{"datum":0.539}}},
  {"data":{"values":[{"lab":"Legumes"}]},"mark":{"type":"text","fontSize":14.5,"color":"#1A1A1A","baseline":"middle"},"encoding":{"y":{"datum":0.5725},"text":{"field":"lab"}}}
 ]},
{"width":217.3,"height":369,"data":{"name":"d"},"transform":[{"filter":"datum.p=='c' && datum.g=='G'"}],
 "title":{"text":"(c)","anchor":"start","frame":"group","dx":-91,"dy":33,"offset":0,"baseline":"middle","fontSize":21,"fontWeight":"bold","color":"#000000"},
 "layer":[
  {"mark":{"type":"rule","color":"#EBEBEB","strokeWidth":1.1},"encoding":{"x":{"field":"s","type":"nominal","bandPosition":0},"y":{"datum":-0.535},"y2":{"datum":0.286}}},
  {"mark":{"type":"rule","color":"#EBEBEB","strokeWidth":1.1},"encoding":{"x":{"field":"s","type":"nominal","bandPosition":1},"y":{"datum":-0.535},"y2":{"datum":0.286}}},
  {"mark":{"type":"bar"},"encoding":{"x":{"field":"s","type":"nominal","scale":{"paddingInner":0,"paddingOuter":0.05},"axis":{"title":null}},"xOffset":{"field":"t","type":"nominal","sort":["W","D"],"scale":{"domain":["W","D"],"paddingInner":0.3,"paddingOuter":0.16}},"y":{"field":"v","type":"quantitative","scale":{"domain":[-0.535,0.355],"nice":false},"axis":{"title":"Plant-soil feedback","titleY":198.5,"values":[-0.5,-0.375,-0.25,-0.125,0,0.125,0.25],"labelExpr":"abs(datum.value*4-round(datum.value*4))<0.001 ? format(datum.value,'.2f') : ''","tickOpacity":{"condition":{"test":"abs(datum.value*4-round(datum.value*4))<0.001","value":1},"value":0},"gridWidth":{"condition":{"test":"abs(datum.value*4-round(datum.value*4))<0.001","value":1.1},"value":0.7}}},"color":{"field":"t","type":"nominal","sort":["W","D"],"scale":{"domain":["W","D"],"range":["#0000CD","#8B0000"]}}}},
  {"data":{"values":[{}]},"mark":{"type":"rule","color":"#000000","strokeWidth":1.5},"encoding":{"y":{"datum":0}}},
  {"mark":{"type":"rule","color":"#000000","strokeWidth":1.4},"encoding":{"x":{"field":"s","type":"nominal"},"xOffset":{"field":"t","type":"nominal","sort":["W","D"]},"y":{"field":"lo","type":"quantitative"},"y2":{"field":"hi"}}},
  {"mark":{"type":"tick","color":"#000000","thickness":1.4,"size":3},"encoding":{"x":{"field":"s","type":"nominal"},"xOffset":{"field":"t","type":"nominal","sort":["W","D"]},"y":{"field":"lo","type":"quantitative"}}},
  {"mark":{"type":"tick","color":"#000000","thickness":1.4,"size":3},"encoding":{"x":{"field":"s","type":"nominal"},"xOffset":{"field":"t","type":"nominal","sort":["W","D"]},"y":{"field":"hi","type":"quantitative"}}},
  {"transform":[{"filter":"datum.sig!='' && datum.v>=0"}],"mark":{"type":"text","fontSize":18,"dy":5,"baseline":"alphabetic","color":"#333333"},"encoding":{"x":{"field":"s","type":"nominal"},"xOffset":{"field":"t","type":"nominal","sort":["W","D"]},"y":{"field":"hi","type":"quantitative"},"text":{"field":"sig"}}},
  {"transform":[{"filter":"datum.sig!='' && datum.v<0"}],"mark":{"type":"text","fontSize":18,"dy":15.5,"baseline":"alphabetic","color":"#333333"},"encoding":{"x":{"field":"s","type":"nominal"},"xOffset":{"field":"t","type":"nominal","sort":["W","D"]},"y":{"field":"lo","type":"quantitative"},"text":{"field":"sig"}}},
  {"data":{"values":[{}]},"mark":{"type":"rect","fill":"#D9D9D9","stroke":"#333333","strokeWidth":1},"encoding":{"y":{"datum":0.355},"y2":{"datum":0.286}}},
  {"data":{"values":[{"lab":"Grasses"}]},"mark":{"type":"text","fontSize":14.5,"color":"#1A1A1A","baseline":"middle"},"encoding":{"y":{"datum":0.3205},"text":{"field":"lab"}}},
  {"data":{"values":[{"m":"RAD"}]},"mark":{"type":"text","fontSize":24,"align":"left","baseline":"alphabetic","color":"#000000"},"encoding":{"x":{"datum":"Anthoxanthum"},"y":{"datum":-0.505},"text":{"field":"m"}}}
 ]},
{"width":271.5,"height":369,"data":{"name":"d"},"transform":[{"filter":"datum.p=='c' && datum.g=='F'"}],
 "layer":[
  {"mark":{"type":"rule","color":"#EBEBEB","strokeWidth":1.1},"encoding":{"x":{"field":"s","type":"nominal","bandPosition":0},"y":{"datum":-0.535},"y2":{"datum":0.286}}},
  {"mark":{"type":"rule","color":"#EBEBEB","strokeWidth":1.1},"encoding":{"x":{"field":"s","type":"nominal","bandPosition":1},"y":{"datum":-0.535},"y2":{"datum":0.286}}},
  {"mark":{"type":"bar"},"encoding":{"x":{"field":"s","type":"nominal","scale":{"paddingInner":0,"paddingOuter":0.05},"axis":{"title":null}},"xOffset":{"field":"t","type":"nominal","sort":["W","D"],"scale":{"domain":["W","D"],"paddingInner":0.3,"paddingOuter":0.16}},"y":{"field":"v","type":"quantitative","scale":{"domain":[-0.535,0.355],"nice":false},"axis":{"title":null,"values":[-0.5,-0.375,-0.25,-0.125,0,0.125,0.25],"labels":false,"ticks":false,"gridWidth":{"condition":{"test":"abs(datum.value*4-round(datum.value*4))<0.001","value":1.1},"value":0.7}}},"color":{"field":"t","type":"nominal","sort":["W","D"],"scale":{"domain":["W","D"],"range":["#0000CD","#8B0000"]}}}},
  {"data":{"values":[{}]},"mark":{"type":"rule","color":"#000000","strokeWidth":1.5},"encoding":{"y":{"datum":0}}},
  {"mark":{"type":"rule","color":"#000000","strokeWidth":1.4},"encoding":{"x":{"field":"s","type":"nominal"},"xOffset":{"field":"t","type":"nominal","sort":["W","D"]},"y":{"field":"lo","type":"quantitative"},"y2":{"field":"hi"}}},
  {"mark":{"type":"tick","color":"#000000","thickness":1.4,"size":3},"encoding":{"x":{"field":"s","type":"nominal"},"xOffset":{"field":"t","type":"nominal","sort":["W","D"]},"y":{"field":"lo","type":"quantitative"}}},
  {"mark":{"type":"tick","color":"#000000","thickness":1.4,"size":3},"encoding":{"x":{"field":"s","type":"nominal"},"xOffset":{"field":"t","type":"nominal","sort":["W","D"]},"y":{"field":"hi","type":"quantitative"}}},
  {"transform":[{"filter":"datum.sig!='' && datum.v>=0"}],"mark":{"type":"text","fontSize":18,"dy":5,"baseline":"alphabetic","color":"#333333"},"encoding":{"x":{"field":"s","type":"nominal"},"xOffset":{"field":"t","type":"nominal","sort":["W","D"]},"y":{"field":"hi","type":"quantitative"},"text":{"field":"sig"}}},
  {"transform":[{"filter":"datum.sig!='' && datum.v<0"}],"mark":{"type":"text","fontSize":18,"dy":15.5,"baseline":"alphabetic","color":"#333333"},"encoding":{"x":{"field":"s","type":"nominal"},"xOffset":{"field":"t","type":"nominal","sort":["W","D"]},"y":{"field":"lo","type":"quantitative"},"text":{"field":"sig"}}},
  {"data":{"values":[{}]},"mark":{"type":"rect","fill":"#D9D9D9","stroke":"#333333","strokeWidth":1},"encoding":{"y":{"datum":0.355},"y2":{"datum":0.286}}},
  {"data":{"values":[{"lab":"Forbs"}]},"mark":{"type":"text","fontSize":14.5,"color":"#1A1A1A","baseline":"middle"},"encoding":{"y":{"datum":0.3205},"text":{"field":"lab"}}}
 ]},
{"width":83.3,"height":369,"data":{"name":"d"},"transform":[{"filter":"datum.p=='c' && datum.g=='L'"}],
 "layer":[
  {"mark":{"type":"rule","color":"#EBEBEB","strokeWidth":1.1},"encoding":{"x":{"field":"s","type":"nominal","bandPosition":0},"y":{"datum":-0.535},"y2":{"datum":0.286}}},
  {"mark":{"type":"rule","color":"#EBEBEB","strokeWidth":1.1},"encoding":{"x":{"field":"s","type":"nominal","bandPosition":1},"y":{"datum":-0.535},"y2":{"datum":0.286}}},
  {"mark":{"type":"bar"},"encoding":{"x":{"field":"s","type":"nominal","scale":{"paddingInner":0,"paddingOuter":0.05},"axis":{"title":null}},"xOffset":{"field":"t","type":"nominal","sort":["W","D"],"scale":{"domain":["W","D"],"paddingInner":0.3,"paddingOuter":0.16}},"y":{"field":"v","type":"quantitative","scale":{"domain":[-0.535,0.355],"nice":false},"axis":{"title":null,"values":[-0.5,-0.375,-0.25,-0.125,0,0.125,0.25],"labels":false,"ticks":false,"gridWidth":{"condition":{"test":"abs(datum.value*4-round(datum.value*4))<0.001","value":1.1},"value":0.7}}},"color":{"field":"t","type":"nominal","sort":["W","D"],"scale":{"domain":["W","D"],"range":["#0000CD","#8B0000"]}}}},
  {"data":{"values":[{}]},"mark":{"type":"rule","color":"#000000","strokeWidth":1.5},"encoding":{"y":{"datum":0}}},
  {"mark":{"type":"rule","color":"#000000","strokeWidth":1.4},"encoding":{"x":{"field":"s","type":"nominal"},"xOffset":{"field":"t","type":"nominal","sort":["W","D"]},"y":{"field":"lo","type":"quantitative"},"y2":{"field":"hi"}}},
  {"mark":{"type":"tick","color":"#000000","thickness":1.4,"size":3},"encoding":{"x":{"field":"s","type":"nominal"},"xOffset":{"field":"t","type":"nominal","sort":["W","D"]},"y":{"field":"lo","type":"quantitative"}}},
  {"mark":{"type":"tick","color":"#000000","thickness":1.4,"size":3},"encoding":{"x":{"field":"s","type":"nominal"},"xOffset":{"field":"t","type":"nominal","sort":["W","D"]},"y":{"field":"hi","type":"quantitative"}}},
  {"transform":[{"filter":"datum.sig!='' && datum.v>=0"}],"mark":{"type":"text","fontSize":18,"dy":5,"baseline":"alphabetic","color":"#333333"},"encoding":{"x":{"field":"s","type":"nominal"},"xOffset":{"field":"t","type":"nominal","sort":["W","D"]},"y":{"field":"hi","type":"quantitative"},"text":{"field":"sig"}}},
  {"transform":[{"filter":"datum.sig!='' && datum.v<0"}],"mark":{"type":"text","fontSize":18,"dy":15.5,"baseline":"alphabetic","color":"#333333"},"encoding":{"x":{"field":"s","type":"nominal"},"xOffset":{"field":"t","type":"nominal","sort":["W","D"]},"y":{"field":"lo","type":"quantitative"},"text":{"field":"sig"}}},
  {"data":{"values":[{}]},"mark":{"type":"rect","fill":"#D9D9D9","stroke":"#333333","strokeWidth":1},"encoding":{"y":{"datum":0.355},"y2":{"datum":0.286}}},
  {"data":{"values":[{"lab":"Legumes"}]},"mark":{"type":"text","fontSize":14.5,"color":"#1A1A1A","baseline":"middle"},"encoding":{"y":{"datum":0.3205},"text":{"field":"lab"}}}
 ]},
{"width":74.7,"height":369,"view":{"stroke":null},"data":{"values":[]},"mark":"point"},
{"width":217.3,"height":369,"data":{"name":"d"},"transform":[{"filter":"datum.p=='d' && datum.g=='G'"}],
 "title":{"text":"(d)","anchor":"start","frame":"group","dx":-89,"dy":33,"offset":0,"baseline":"middle","fontSize":21,"fontWeight":"bold","color":"#000000"},
 "layer":[
  {"mark":{"type":"rule","color":"#EBEBEB","strokeWidth":1.1},"encoding":{"x":{"field":"s","type":"nominal","bandPosition":0},"y":{"datum":-0.535},"y2":{"datum":0.286}}},
  {"mark":{"type":"rule","color":"#EBEBEB","strokeWidth":1.1},"encoding":{"x":{"field":"s","type":"nominal","bandPosition":1},"y":{"datum":-0.535},"y2":{"datum":0.286}}},
  {"mark":{"type":"bar"},"encoding":{"x":{"field":"s","type":"nominal","scale":{"paddingInner":0,"paddingOuter":0.05},"axis":{"title":null}},"xOffset":{"field":"t","type":"nominal","sort":["W","D"],"scale":{"domain":["W","D"],"paddingInner":0.3,"paddingOuter":0.16}},"y":{"field":"v","type":"quantitative","scale":{"domain":[-0.535,0.355],"nice":false},"axis":{"title":"Plant-soil feedback","titleY":198.5,"values":[-0.5,-0.375,-0.25,-0.125,0,0.125,0.25],"labelExpr":"abs(datum.value*4-round(datum.value*4))<0.001 ? format(datum.value,'.2f') : ''","tickOpacity":{"condition":{"test":"abs(datum.value*4-round(datum.value*4))<0.001","value":1},"value":0},"gridWidth":{"condition":{"test":"abs(datum.value*4-round(datum.value*4))<0.001","value":1.1},"value":0.7}}},"color":{"field":"t","type":"nominal","sort":["W","D"],"scale":{"domain":["W","D"],"range":["#0000CD","#8B0000"]}}}},
  {"data":{"values":[{}]},"mark":{"type":"rule","color":"#000000","strokeWidth":1.5},"encoding":{"y":{"datum":0}}},
  {"mark":{"type":"rule","color":"#000000","strokeWidth":1.4},"encoding":{"x":{"field":"s","type":"nominal"},"xOffset":{"field":"t","type":"nominal","sort":["W","D"]},"y":{"field":"lo","type":"quantitative"},"y2":{"field":"hi"}}},
  {"mark":{"type":"tick","color":"#000000","thickness":1.4,"size":3},"encoding":{"x":{"field":"s","type":"nominal"},"xOffset":{"field":"t","type":"nominal","sort":["W","D"]},"y":{"field":"lo","type":"quantitative"}}},
  {"mark":{"type":"tick","color":"#000000","thickness":1.4,"size":3},"encoding":{"x":{"field":"s","type":"nominal"},"xOffset":{"field":"t","type":"nominal","sort":["W","D"]},"y":{"field":"hi","type":"quantitative"}}},
  {"transform":[{"filter":"datum.sig!='' && datum.v>=0"}],"mark":{"type":"text","fontSize":18,"dy":5,"baseline":"alphabetic","color":"#333333"},"encoding":{"x":{"field":"s","type":"nominal"},"xOffset":{"field":"t","type":"nominal","sort":["W","D"]},"y":{"field":"hi","type":"quantitative"},"text":{"field":"sig"}}},
  {"transform":[{"filter":"datum.sig!='' && datum.v<0"}],"mark":{"type":"text","fontSize":18,"dy":15.5,"baseline":"alphabetic","color":"#333333"},"encoding":{"x":{"field":"s","type":"nominal"},"xOffset":{"field":"t","type":"nominal","sort":["W","D"]},"y":{"field":"lo","type":"quantitative"},"text":{"field":"sig"}}},
  {"data":{"values":[{}]},"mark":{"type":"rect","fill":"#D9D9D9","stroke":"#333333","strokeWidth":1},"encoding":{"y":{"datum":0.355},"y2":{"datum":0.286}}},
  {"data":{"values":[{"lab":"Grasses"}]},"mark":{"type":"text","fontSize":14.5,"color":"#1A1A1A","baseline":"middle"},"encoding":{"y":{"datum":0.3205},"text":{"field":"lab"}}},
  {"data":{"values":[{"m":"RTD"}]},"mark":{"type":"text","fontSize":24,"align":"left","baseline":"alphabetic","color":"#000000"},"encoding":{"x":{"datum":"Anthoxanthum"},"y":{"datum":-0.489},"text":{"field":"m"}}}
 ]},
{"width":271.5,"height":369,"data":{"name":"d"},"transform":[{"filter":"datum.p=='d' && datum.g=='F'"}],
 "layer":[
  {"mark":{"type":"rule","color":"#EBEBEB","strokeWidth":1.1},"encoding":{"x":{"field":"s","type":"nominal","bandPosition":0},"y":{"datum":-0.535},"y2":{"datum":0.286}}},
  {"mark":{"type":"rule","color":"#EBEBEB","strokeWidth":1.1},"encoding":{"x":{"field":"s","type":"nominal","bandPosition":1},"y":{"datum":-0.535},"y2":{"datum":0.286}}},
  {"mark":{"type":"bar"},"encoding":{"x":{"field":"s","type":"nominal","scale":{"paddingInner":0,"paddingOuter":0.05},"axis":{"title":null}},"xOffset":{"field":"t","type":"nominal","sort":["W","D"],"scale":{"domain":["W","D"],"paddingInner":0.3,"paddingOuter":0.16}},"y":{"field":"v","type":"quantitative","scale":{"domain":[-0.535,0.355],"nice":false},"axis":{"title":null,"values":[-0.5,-0.375,-0.25,-0.125,0,0.125,0.25],"labels":false,"ticks":false,"gridWidth":{"condition":{"test":"abs(datum.value*4-round(datum.value*4))<0.001","value":1.1},"value":0.7}}},"color":{"field":"t","type":"nominal","sort":["W","D"],"scale":{"domain":["W","D"],"range":["#0000CD","#8B0000"]}}}},
  {"data":{"values":[{}]},"mark":{"type":"rule","color":"#000000","strokeWidth":1.5},"encoding":{"y":{"datum":0}}},
  {"mark":{"type":"rule","color":"#000000","strokeWidth":1.4},"encoding":{"x":{"field":"s","type":"nominal"},"xOffset":{"field":"t","type":"nominal","sort":["W","D"]},"y":{"field":"lo","type":"quantitative"},"y2":{"field":"hi"}}},
  {"mark":{"type":"tick","color":"#000000","thickness":1.4,"size":3},"encoding":{"x":{"field":"s","type":"nominal"},"xOffset":{"field":"t","type":"nominal","sort":["W","D"]},"y":{"field":"lo","type":"quantitative"}}},
  {"mark":{"type":"tick","color":"#000000","thickness":1.4,"size":3},"encoding":{"x":{"field":"s","type":"nominal"},"xOffset":{"field":"t","type":"nominal","sort":["W","D"]},"y":{"field":"hi","type":"quantitative"}}},
  {"transform":[{"filter":"datum.sig!='' && datum.v>=0"}],"mark":{"type":"text","fontSize":18,"dy":5,"baseline":"alphabetic","color":"#333333"},"encoding":{"x":{"field":"s","type":"nominal"},"xOffset":{"field":"t","type":"nominal","sort":["W","D"]},"y":{"field":"hi","type":"quantitative"},"text":{"field":"sig"}}},
  {"transform":[{"filter":"datum.sig!='' && datum.v<0"}],"mark":{"type":"text","fontSize":18,"dy":15.5,"baseline":"alphabetic","color":"#333333"},"encoding":{"x":{"field":"s","type":"nominal"},"xOffset":{"field":"t","type":"nominal","sort":["W","D"]},"y":{"field":"lo","type":"quantitative"},"text":{"field":"sig"}}},
  {"data":{"values":[{}]},"mark":{"type":"rect","fill":"#D9D9D9","stroke":"#333333","strokeWidth":1},"encoding":{"y":{"datum":0.355},"y2":{"datum":0.286}}},
  {"data":{"values":[{"lab":"Forbs"}]},"mark":{"type":"text","fontSize":14.5,"color":"#1A1A1A","baseline":"middle"},"encoding":{"y":{"datum":0.3205},"text":{"field":"lab"}}}
 ]},
{"width":83.3,"height":369,"data":{"name":"d"},"transform":[{"filter":"datum.p=='d' && datum.g=='L'"}],
 "layer":[
  {"mark":{"type":"rule","color":"#EBEBEB","strokeWidth":1.1},"encoding":{"x":{"field":"s","type":"nominal","bandPosition":0},"y":{"datum":-0.535},"y2":{"datum":0.286}}},
  {"mark":{"type":"rule","color":"#EBEBEB","strokeWidth":1.1},"encoding":{"x":{"field":"s","type":"nominal","bandPosition":1},"y":{"datum":-0.535},"y2":{"datum":0.286}}},
  {"mark":{"type":"bar"},"encoding":{"x":{"field":"s","type":"nominal","scale":{"paddingInner":0,"paddingOuter":0.05},"axis":{"title":null}},"xOffset":{"field":"t","type":"nominal","sort":["W","D"],"scale":{"domain":["W","D"],"paddingInner":0.3,"paddingOuter":0.16}},"y":{"field":"v","type":"quantitative","scale":{"domain":[-0.535,0.355],"nice":false},"axis":{"title":null,"values":[-0.5,-0.375,-0.25,-0.125,0,0.125,0.25],"labels":false,"ticks":false,"gridWidth":{"condition":{"test":"abs(datum.value*4-round(datum.value*4))<0.001","value":1.1},"value":0.7}}},"color":{"field":"t","type":"nominal","sort":["W","D"],"scale":{"domain":["W","D"],"range":["#0000CD","#8B0000"]}}}},
  {"data":{"values":[{}]},"mark":{"type":"rule","color":"#000000","strokeWidth":1.5},"encoding":{"y":{"datum":0}}},
  {"mark":{"type":"rule","color":"#000000","strokeWidth":1.4},"encoding":{"x":{"field":"s","type":"nominal"},"xOffset":{"field":"t","type":"nominal","sort":["W","D"]},"y":{"field":"lo","type":"quantitative"},"y2":{"field":"hi"}}},
  {"mark":{"type":"tick","color":"#000000","thickness":1.4,"size":3},"encoding":{"x":{"field":"s","type":"nominal"},"xOffset":{"field":"t","type":"nominal","sort":["W","D"]},"y":{"field":"lo","type":"quantitative"}}},
  {"mark":{"type":"tick","color":"#000000","thickness":1.4,"size":3},"encoding":{"x":{"field":"s","type":"nominal"},"xOffset":{"field":"t","type":"nominal","sort":["W","D"]},"y":{"field":"hi","type":"quantitative"}}},
  {"transform":[{"filter":"datum.sig!='' && datum.v>=0"}],"mark":{"type":"text","fontSize":18,"dy":5,"baseline":"alphabetic","color":"#333333"},"encoding":{"x":{"field":"s","type":"nominal"},"xOffset":{"field":"t","type":"nominal","sort":["W","D"]},"y":{"field":"hi","type":"quantitative"},"text":{"field":"sig"}}},
  {"transform":[{"filter":"datum.sig!='' && datum.v<0"}],"mark":{"type":"text","fontSize":18,"dy":15.5,"baseline":"alphabetic","color":"#333333"},"encoding":{"x":{"field":"s","type":"nominal"},"xOffset":{"field":"t","type":"nominal","sort":["W","D"]},"y":{"field":"lo","type":"quantitative"},"text":{"field":"sig"}}},
  {"data":{"values":[{}]},"mark":{"type":"rect","fill":"#D9D9D9","stroke":"#333333","strokeWidth":1},"encoding":{"y":{"datum":0.355},"y2":{"datum":0.286}}},
  {"data":{"values":[{"lab":"Legumes"}]},"mark":{"type":"text","fontSize":14.5,"color":"#1A1A1A","baseline":"middle"},"encoding":{"y":{"datum":0.3205},"text":{"field":"lab"}}}
 ]}
]
}
